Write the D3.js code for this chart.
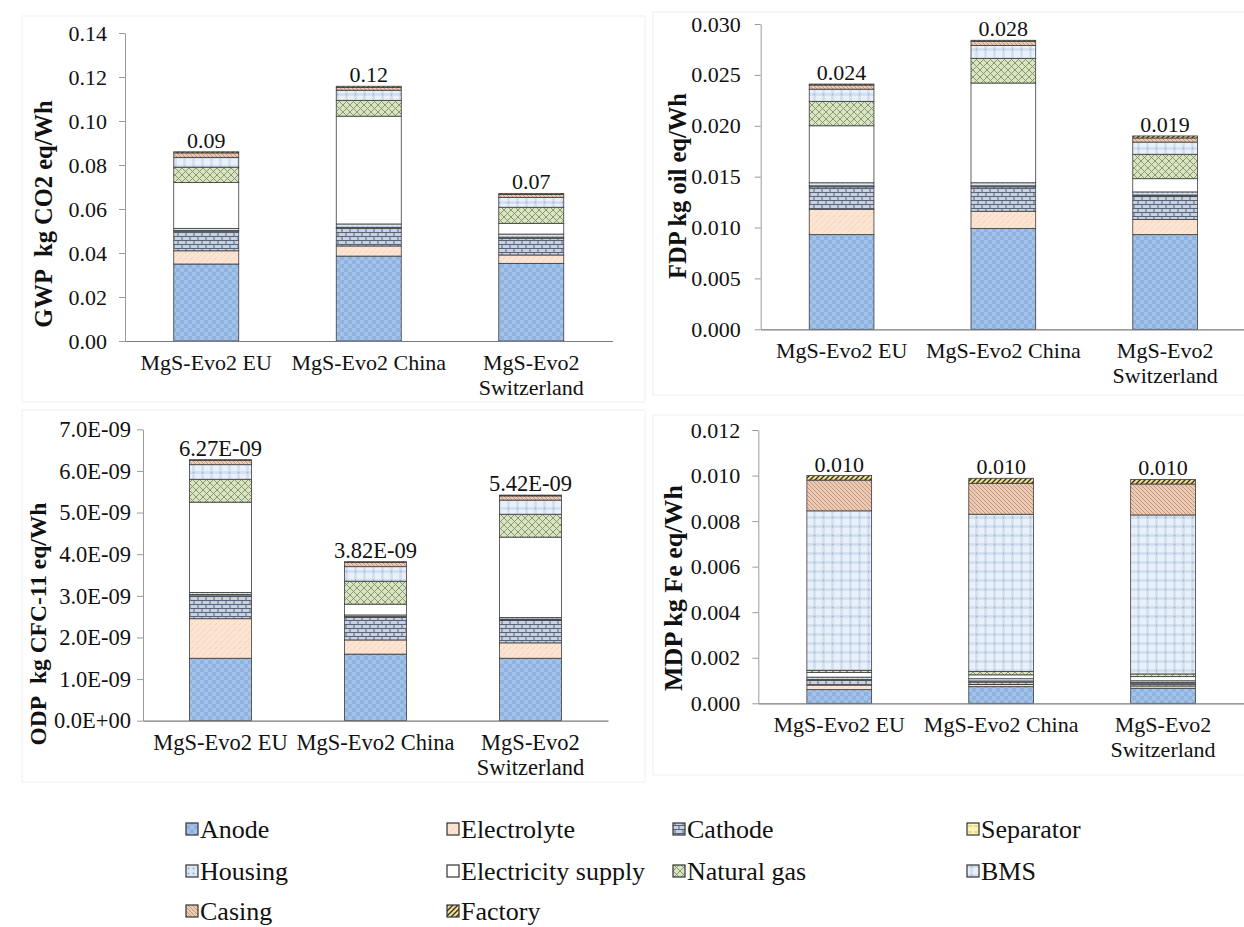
<!DOCTYPE html>
<html>
<head>
<meta charset="utf-8">
<script src="https://cdn.jsdelivr.net/npm/d3@7"></script>
<style>
  body { margin: 0; background: #fff; }
  svg { display: block; font-family: "Liberation Serif", "Times New Roman", serif; }
</style>
</head>
<body>
<div id="chart"></div>
<script>
/* ============================================================
   DATA
============================================================ */

const categories = ["MgS-Evo2 EU", "MgS-Evo2 China", "MgS-Evo2 Switzerland"];
const categoryLines = [["MgS-Evo2 EU"], ["MgS-Evo2 China"], ["MgS-Evo2", "Switzerland"]];

const components = [
    "Anode", "Electrolyte", "Cathode", "Separator", "Housing",
    "Electricity supply", "Natural gas", "BMS", "Casing", "Factory"
];

// kg CO2 eq/Wh
const gwpEU    = [0.0350, 0.0060, 0.0087, 0.0005, 0.0010, 0.0208, 0.0070, 0.0045, 0.0020, 0.0005];
const gwpChina = [0.0386, 0.0046, 0.0080, 0.0005, 0.0015, 0.0490, 0.0072, 0.0046, 0.0012, 0.0006];
const gwpSwiss = [0.0353, 0.0038, 0.0076, 0.0005, 0.0014, 0.0049, 0.0073, 0.0045, 0.0013, 0.0005];

// kg oil eq/Wh
const fdpEU    = [0.0093, 0.0025, 0.0022, 0.0001, 0.0003, 0.0056, 0.0024, 0.0012, 0.0004, 0.0001];
const fdpChina = [0.0099, 0.0017, 0.0024, 0.0001, 0.0003, 0.0098, 0.0024, 0.0013, 0.0004, 0.0001];
const fdpSwiss = [0.0093, 0.0015, 0.0023, 0.0001, 0.0003, 0.0013, 0.0024, 0.0012, 0.0004, 0.0002];

// kg CFC-11 eq/Wh
const odpEU    = [1.50e-9, 0.95e-9, 0.55e-9, 0.03e-9, 0.05e-9, 2.17e-9, 0.55e-9, 0.35e-9, 0.10e-9, 0.02e-9];
const odpChina = [1.60e-9, 0.34e-9, 0.54e-9, 0.02e-9, 0.04e-9, 0.26e-9, 0.55e-9, 0.35e-9, 0.10e-9, 0.02e-9];
const odpSwiss = [1.50e-9, 0.37e-9, 0.55e-9, 0.02e-9, 0.04e-9, 1.93e-9, 0.55e-9, 0.34e-9, 0.10e-9, 0.02e-9];

// kg Fe eq/Wh
const mdpEU    = [0.00060, 0.00020, 0.00020, 0.00005, 0.00010, 0.00020, 0.00010, 0.00700, 0.00135, 0.00020];
const mdpChina = [0.00073, 0.00010, 0.00010, 0.00005, 0.00010, 0.00017, 0.00015, 0.00690, 0.00136, 0.00022];
const mdpSwiss = [0.00066, 0.00010, 0.00010, 0.00005, 0.00008, 0.00018, 0.00012, 0.00698, 0.00136, 0.00020];

const gwpTicks = [0, 0.02, 0.04, 0.06, 0.08, 0.10, 0.12, 0.14];
const fdpTicks = [0, 0.005, 0.010, 0.015, 0.020, 0.025, 0.030];
const odpTicks = [0, 1e-9, 2e-9, 3e-9, 4e-9, 5e-9, 6e-9, 7e-9];
const mdpTicks = [0, 0.002, 0.004, 0.006, 0.008, 0.010, 0.012];

/* ============================================================
   LAYOUT
============================================================ */

const W = 1244, H = 927;
const FONT = "'Liberation Serif', 'Times New Roman', serif";

const sciFmt = v => v === 0 ? "0.0E+00" : (v / 1e-9).toFixed(1) + "E-09";
const sciTotal = v => (v / 1e-9).toFixed(2) + "E-09";

const panels = [
    { series: [gwpEU, gwpChina, gwpSwiss], ticks: gwpTicks, x0: 125, x1: 612.5, yTop: 33, yBot: 341,
      tickFmt: d3.format(".2f"), totalFmt: d3.format(".2f"), pad: 12, fs: 22,
      label: "GWP\u00a0\u00a0kg CO2 eq/Wh", labelX: 43, labelY: 214, labelFs: 24.5,
      frame: [22, 16, 623, 386] },
    { series: [fdpEU, fdpChina, fdpSwiss], ticks: fdpTicks, x0: 760.7, x1: 1246, yTop: 24, yBot: 329.3,
      tickFmt: d3.format(".3f"), totalFmt: d3.format(".3f"), pad: 14, fs: 22,
      label: "FDP kg oil eq/Wh", labelX: 677, labelY: 186, labelFs: 24.5,
      frame: [653, 12, 600, 383] },
    { series: [odpEU, odpChina, odpSwiss], ticks: odpTicks, x0: 143, x1: 608, yTop: 429.3, yBot: 720.7,
      tickFmt: sciFmt, totalFmt: sciTotal, pad: 6, fs: 22.5,
      label: "ODP\u00a0\u00a0kg CFC-11 eq/Wh", labelX: 38, labelY: 624, labelFs: 23.5,
      frame: [22, 410, 623, 372] },
    { series: [mdpEU, mdpChina, mdpSwiss], ticks: mdpTicks, x0: 758.3, x1: 1244, yTop: 430, yBot: 703.3,
      tickFmt: d3.format(".3f"), totalFmt: d3.format(".3f"), pad: 12, fs: 22,
      label: "MDP kg Fe eq/Wh", labelX: 673, labelY: 588, labelFs: 26,
      frame: [653, 415, 600, 360] }
];

const svg = d3.select("#chart").append("svg")
    .attr("width", W)
    .attr("height", H);

/* ============================================================
   PATTERNS
============================================================ */

const defs = svg.append("defs");

function pattern(id, size, bg, draw) {
    const p = defs.append("pattern")
        .attr("id", id)
        .attr("patternUnits", "userSpaceOnUse")
        .attr("width", size)
        .attr("height", size);
    p.append("rect").attr("width", size).attr("height", size).attr("fill", bg);
    if (draw) draw(p);
}

// anode: blue checker
pattern("p-anode", 8, "#8fb3e0", p => {
    p.append("rect").attr("width", 4).attr("height", 4).attr("fill", "#a4c2e8");
    p.append("rect").attr("x", 4).attr("y", 4).attr("width", 4).attr("height", 4).attr("fill", "#a4c2e8");
});
// electrolyte: peach with faint diagonal speckles
pattern("p-electrolyte", 6, "#fbe4d2", p => {
    p.append("path").attr("d", "M0,6 L6,0").attr("stroke", "#e2b497").attr("stroke-width", 0.6)
        .attr("stroke-dasharray", "1,1.5");
});
// cathode: brick
pattern("p-cathode", 8, "#c8d2e3", p => {
    p.append("path").attr("d", "M0,0.5 H8 M0,4.5 H8 M2,0.5 V4.5 M6,4.5 V8")
        .attr("stroke", "#5a6478").attr("stroke-width", 1);
});
// separator: pale yellow
pattern("p-separator", 6, "#fff3b8", p => {
    p.append("path").attr("d", "M1,3 H5").attr("stroke", "#c9b45a").attr("stroke-width", 0.8);
});
// housing: light blue dots
pattern("p-housing", 5, "#dde8f6", p => {
    p.append("circle").attr("cx", 2.5).attr("cy", 2.5).attr("r", 0.9).attr("fill", "#8fa9cc");
});
// natural gas: green crosshatch
pattern("p-gas", 7, "#d9e5c0", p => {
    p.append("path").attr("d", "M0,0 L7,7 M7,0 L0,7")
        .attr("stroke", "#7f8d6c").attr("stroke-width", 0.9);
});
// BMS: light blue plaid with dots
pattern("p-bms", 9, "#e9f0f9", p => {
    p.append("rect").attr("x", 0).attr("y", 3).attr("width", 9).attr("height", 3).attr("fill", "#d3e0f0");
    p.append("rect").attr("x", 3).attr("y", 0).attr("width", 3).attr("height", 9).attr("fill", "#d3e0f0");
    p.append("circle").attr("cx", 4.5).attr("cy", 4.5).attr("r", 1).attr("fill", "#9fb4d2");
});
// casing: tan diagonal hatch
pattern("p-casing", 4, "#eccab4", p => {
    p.append("path").attr("d", "M0,0 L4,4 M-1,3 L1,5 M3,-1 L5,1")
        .attr("stroke", "#b88a73").attr("stroke-width", 0.8);
});
// factory: yellow / black diagonal stripes
pattern("p-factory", 5, "#f3e08e", p => {
    p.append("path").attr("d", "M0,5 L5,0 M-1,1 L1,-1 M4,6 L6,4")
        .attr("stroke", "#333").attr("stroke-width", 1.4);
});

const fills = [
    "url(#p-anode)", "url(#p-electrolyte)", "url(#p-cathode)", "url(#p-separator)",
    "url(#p-housing)", "#ffffff", "url(#p-gas)", "url(#p-bms)",
    "url(#p-casing)", "url(#p-factory)"
];

/* ============================================================
   PANELS
============================================================ */

panels.forEach(drawPanel);

function drawPanel(cfg) {
    // faint frame around each chart area
    svg.append("rect")
        .attr("x", cfg.frame[0]).attr("y", cfg.frame[1])
        .attr("width", cfg.frame[2]).attr("height", cfg.frame[3])
        .attr("fill", "none")
        .attr("stroke", "#f0f0f0");

    const x = d3.scaleBand()
        .domain(categories)
        .range([cfg.x0, cfg.x1])
        .paddingInner(0.6)
        .paddingOuter(0.3);

    const y = d3.scaleLinear()
        .domain([0, cfg.ticks[cfg.ticks.length - 1]])
        .range([cfg.yBot, cfg.yTop]);

    // y axis
    const yAxis = svg.append("g")
        .attr("transform", `translate(${cfg.x0},0)`)
        .call(d3.axisLeft(y)
            .tickValues(cfg.ticks)
            .tickFormat(cfg.tickFmt)
            .tickSize(6)
            .tickSizeOuter(0)
            .tickPadding(cfg.pad));
    yAxis.select(".domain").attr("stroke", "#9a9a9a");
    yAxis.selectAll(".tick line").attr("stroke", "#9a9a9a");
    yAxis.selectAll("text")
        .style("font-family", FONT)
        .attr("font-size", cfg.fs)
        .attr("fill", "#111");

    // stacked bars
    const stackData = categories.map((c, i) => {
        const row = { cat: c };
        components.forEach((k, j) => row[k] = cfg.series[i][j]);
        return row;
    });
    const stacked = d3.stack().keys(components)(stackData);

    const layers = svg.append("g");
    layers.selectAll("g")
        .data(stacked)
        .join("g")
        .attr("fill", (d, i) => fills[i])
        .selectAll("rect")
        .data(d => d)
        .join("rect")
        .attr("x", d => x(d.data.cat))
        .attr("width", x.bandwidth())
        .attr("y", d => y(d[1]))
        .attr("height", d => Math.max(0, y(d[0]) - y(d[1])))
        .attr("stroke", "#3c3c3c")
        .attr("stroke-width", 0.8);

    // x axis
    const xAxis = svg.append("g")
        .attr("transform", `translate(0,${cfg.yBot})`)
        .call(d3.axisBottom(x).tickSize(0).tickSizeOuter(0).tickFormat(""));
    xAxis.select(".domain").attr("stroke", "#7a7a7a").attr("stroke-width", 1.2);

    const catLabels = svg.append("g");
    categories.forEach((c, i) => {
        const t = catLabels.append("text")
            .attr("x", x(c) + x.bandwidth() / 2)
            .attr("y", cfg.yBot + 29)
            .attr("text-anchor", "middle")
            .style("font-family", FONT)
            .attr("font-size", cfg.fs)
            .attr("fill", "#111");
        categoryLines[i].forEach((line, k) => {
            t.append("tspan")
                .attr("x", x(c) + x.bandwidth() / 2)
                .attr("dy", k === 0 ? 0 : 25)
                .text(line);
        });
    });

    // totals
    svg.append("g")
        .selectAll("text")
        .data(stackData)
        .join("text")
        .attr("x", d => x(d.cat) + x.bandwidth() / 2)
        .attr("y", (d, i) => y(d3.sum(cfg.series[i])) - 4)
        .attr("text-anchor", "middle")
        .style("font-family", FONT)
        .attr("font-size", cfg.fs)
        .attr("fill", "#111")
        .text((d, i) => cfg.totalFmt(d3.sum(cfg.series[i])));

    // y axis title
    svg.append("text")
        .attr("transform", `translate(${cfg.labelX},${cfg.labelY}) rotate(-90)`)
        .attr("text-anchor", "middle")
        .attr("dy", "0.35em")
        .style("font-family", FONT)
        .attr("font-weight", "bold")
        .attr("font-size", cfg.labelFs)
        .attr("fill", "#111")
        .text(cfg.label);
}

/* ============================================================
   LEGEND
============================================================ */

const legendCols = [186, 447, 673, 967];
const legendRows = [829, 871, 911];

const legend = svg.append("g");
components.forEach((name, i) => {
    const cx = legendCols[i % 4];
    const cy = legendRows[Math.floor(i / 4)];
    const item = legend.append("g").attr("transform", `translate(${cx},${cy})`);
    item.append("rect")
        .attr("x", 0).attr("y", -6)
        .attr("width", 12).attr("height", 12)
        .attr("fill", fills[i])
        .attr("stroke", "#333")
        .attr("stroke-width", 1.2);
    item.append("text")
        .attr("x", 14)
        .attr("y", 0)
        .attr("dy", "0.35em")
        .style("font-family", FONT)
        .attr("font-size", 26)
        .attr("fill", "#111")
        .text(name);
});
</script>
</body>
</html>
